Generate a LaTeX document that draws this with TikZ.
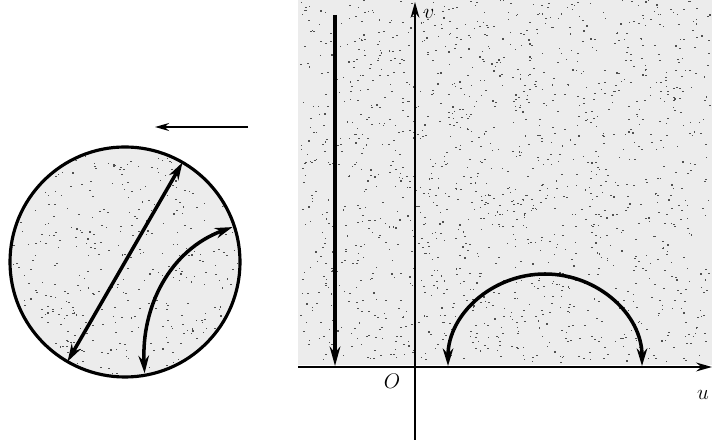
\documentclass[tikz,border=0pt]{standalone}
\usepackage{xcolor}
\usetikzlibrary{arrows.meta, calc}
\definecolor{stipfill}{RGB}{236, 236, 236}
\definecolor{stipdot}{RGB}{80, 80, 80}

\begin{document}
\begin{tikzpicture}[
    x=0.02cm, y=0.02cm,
    axis/.style={line width=#1, -{Stealth[length=9pt, width=5pt]}},
    curve/.style={line width=2pt},
    dbl/.style={curve, {Stealth[length=10pt, width=6pt]}-{Stealth[length=10pt, width=6pt]}},
    down/.style={curve, -{Stealth[length=11pt, width=6pt]}},
    lbl/.style={font=\large, inner sep=1pt},
    dot/.style={fill=stipdot}
]
\useasboundingbox (0,0) rectangle (715,448);
\pgfmathsetseed{7}

%% ── Stippled regions ───────────────────────────────────────────────────
\fill[stipfill] (298,83) rectangle (712,448);
\foreach \k in {1,...,1500}{
  \pgfmathsetmacro\px{300+410*rnd}
  \pgfmathsetmacro\py{85+362*rnd}
  \fill[dot] (\px,\py) rectangle ++(1.6,1.1);
}
\coordinate (disk) at (125,186);
\fill[stipfill] (disk) circle[radius=115];
\begin{scope}
  \clip (disk) circle[radius=113];
  \foreach \k in {1,...,450}{
    \pgfmathsetmacro\px{10+230*rnd}
    \pgfmathsetmacro\py{71+230*rnd}
    \fill[dot] (\px,\py) rectangle ++(1.6,1.1);
  }
\end{scope}

%% ── Disk (z-plane) ─────────────────────────────────────────────────────
\draw[line width=1.8pt] (disk) circle[radius=115];
\coordinate (cA) at ($(disk)+(60:115)$);
\coordinate (cB) at ($(disk)+(240:115)$);
\coordinate (aA) at ($(disk)+(-80:113)$);
\coordinate (aB) at ($(disk)+(18:113)$);
\draw[dbl] (cB) -- (cA);
\draw[dbl] (aA) to[out=93, in=200] (aB);

\coordinate (mapR) at (248,321);
\coordinate (mapL) at (155,321);
\draw[line width=1.2pt, -{Stealth[length=8pt, width=4.5pt]}] (mapR) -- (mapL);

%% ── Axes (w-plane) ─────────────────────────────────────────────────────
\coordinate (uS) at (298,81);  \coordinate (uE) at (712,81);
\coordinate (vS) at (415,8);   \coordinate (vE) at (415,446);
\draw[axis=1.3pt] (uS) -- (uE);
\draw[axis=1.1pt] (vS) -- (vE);
\node[lbl] (v) at (429,434) {$v$};
\node[lbl] (u) at (703,53) {$u$};
\node[lbl] (O) at (392,67) {$O$};

%% ── Images of the curves ───────────────────────────────────────────────
\coordinate (lT) at (335,433);
\coordinate (lB) at (335,82);
\draw[down] (lT) -- (lB);

\coordinate (sL) at (448,82);
\coordinate (sR) at (642,82);
\draw[dbl] (sL) arc[start angle=180, end angle=0, x radius=97, y radius=92];
\end{tikzpicture}
\end{document}
